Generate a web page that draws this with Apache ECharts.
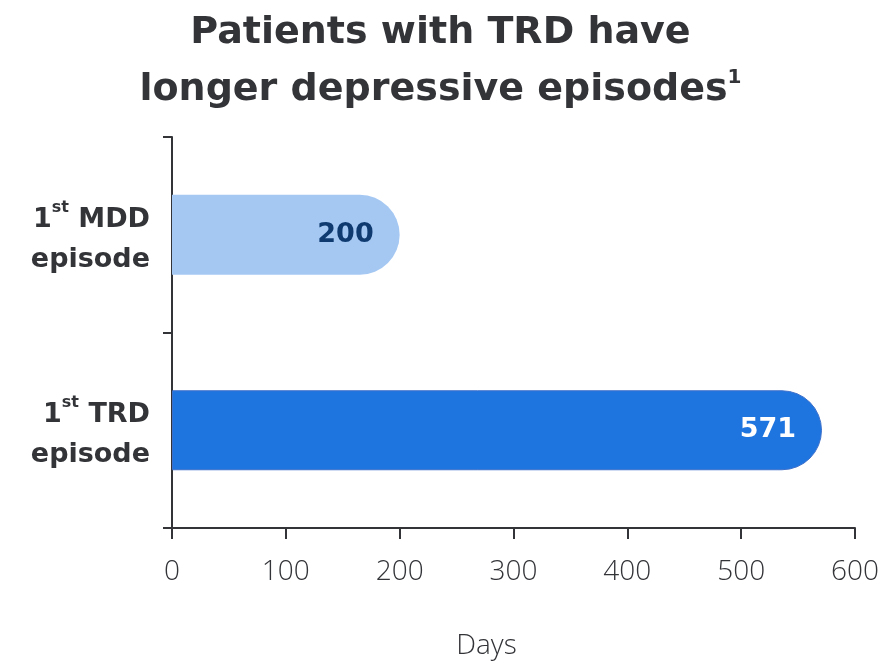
<!DOCTYPE html>
<html><head><meta charset="utf-8">
<script src="https://cdn.jsdelivr.net/npm/echarts@6/dist/echarts.min.js"></script>
<style>html,body{margin:0;padding:0;background:#fff}#c{width:881px;height:662px}</style>
</head><body><div id="c"></div>
<script>
const categories = ['1st MDD episode', '1st TRD episode'];
const values = [200, 571];
const xTicks = [0, 100, 200, 300, 400, 500, 600];
const barColors = ['#A5C8F3', '#1E75E0'];
const labelColors = ['#0E3A70', '#FFFFFF'];

const BOLD = 'DejaVu Sans';
const LIGHT = 'Open Sans';
const chart = echarts.init(document.getElementById('c'));
chart.setOption({
  animation: false,
  title: {
    text: '{t|Patients with TRD have}\n{t|longer depressive episodes}{s|1}',
    left: 'center', top: 0,
    textStyle: {
      rich: {
        t: { fontFamily: BOLD, fontWeight: 'bold', fontSize: 38, color: '#333438', lineHeight: 57 },
        s: { fontFamily: BOLD, fontWeight: 'bold', fontSize: 20, color: '#333438', verticalAlign: 'top', lineHeight: 57, padding: [6,0,0,0] }
      }
    }
  },
  grid: { left: 172, right: 26, top: 137, bottom: 134, containLabel: false, outerBoundsMode: 'none' },
  xAxis: {
    type: 'value', min: xTicks[0], max: xTicks[xTicks.length - 1], interval: 100,
    axisLine: { show: true, lineStyle: { color: '#333438', width: 2 } },
    axisTick: { show: true, length: 11, lineStyle: { color: '#333438', width: 2 } },
    splitLine: { show: false },
    axisLabel: { margin: 30, fontFamily: LIGHT, fontWeight: 300, fontSize: 28, color: '#333438' },
    name: 'Days', nameLocation: 'middle', nameGap: 104,
    nameTextStyle: { fontFamily: LIGHT, fontWeight: 300, fontSize: 28, color: '#333438', padding: [0, 54, 0, 0] }
  },
  yAxis: {
    type: 'category', data: categories, inverse: true,
    axisLine: { show: true, lineStyle: { color: '#333438', width: 2 } },
    axisTick: { show: true, length: 9, lineStyle: { color: '#333438', width: 2 } },
    axisLabel: {
      margin: 22, align: 'right', padding: [10, 0, 0, 0],
      formatter: function (v) {
        const parts = v.split(' ');
        return '{n|' + parts[0].replace('st', '') + '}{s|st}{n| ' + parts[1] + '}\n{n|' + parts[2] + '}';
      },
      rich: {
        n: { fontFamily: BOLD, fontWeight: 'bold', fontSize: 27, color: '#333438', lineHeight: 40 },
        s: { fontFamily: BOLD, fontWeight: 'bold', fontSize: 16, color: '#333438', verticalAlign: 'top', lineHeight: 40, padding: [0,0,6,0] }
      }
    }
  },
  series: [{
    type: 'bar', barWidth: 80,
    data: values.map((v, i) => ({
      value: v,
      itemStyle: { color: barColors[i], borderRadius: [0, 40, 40, 0], borderColor: i === 1 ? '#3F70C9' : barColors[i], borderWidth: i === 1 ? 1 : 0 },
      label: { color: labelColors[i] }
    })),
    label: {
      show: true, position: 'insideRight', distance: 26,
      fontFamily: BOLD, fontWeight: 'bold', fontSize: 27
    }
  }]
});
</script></body></html>
